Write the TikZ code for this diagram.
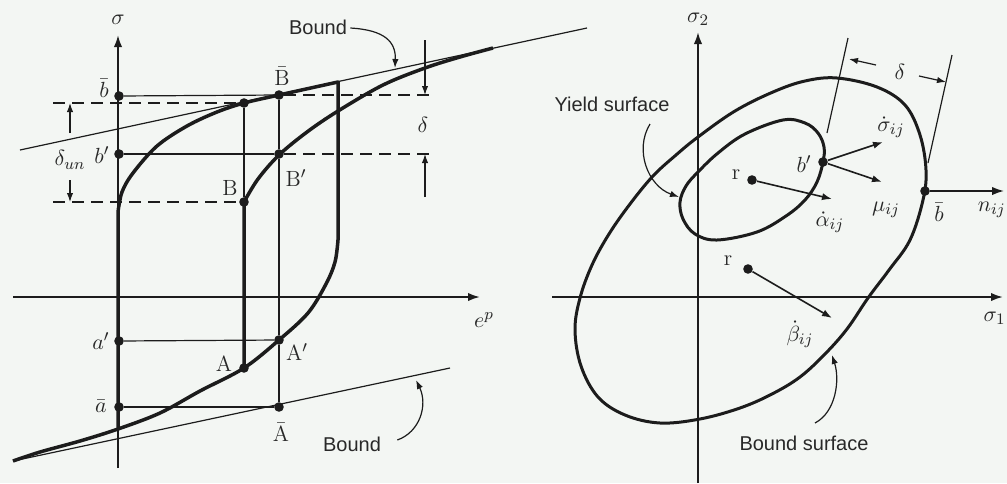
\documentclass[tikz,border=0pt]{standalone}
\usepackage{fontspec}
\setsansfont{Liberation Sans}
\usetikzlibrary{arrows.meta}
\definecolor{bg}{RGB}{243,246,243}
\definecolor{ink}{RGB}{28,28,28}
\definecolor{txt}{RGB}{40,40,40}
\begin{document}
\begin{tikzpicture}[x=0.5pt,y=-0.5pt,
  thickc/.style={draw=ink,line width=1.75pt,line join=round},
  ellc/.style={draw=ink,line width=1.5pt},
  axisl/.style={draw=ink,line width=1.0pt,-{Latex[length=6pt,width=4.2pt]}},
  thinl/.style={draw=ink,line width=0.6pt},
  dashl/.style={draw=ink,line width=0.7pt,dash pattern=on 6pt off 3.5pt},
  dimarrow/.style={draw=ink,line width=0.6pt,-{Latex[length=4.5pt,width=3.2pt]}},
  vecarrow/.style={draw=ink,line width=0.8pt,-{Latex[length=5pt,width=3.6pt]}},
  dot/.style={circle,fill=ink,inner sep=0pt,minimum size=4.8pt},
  mlbl/.style={text=txt,inner sep=0pt,font=\fontsize{11}{13}\selectfont},
  slbl/.style={text=txt,inner sep=0pt,font=\sffamily\fontsize{10}{12}\selectfont}]
\useasboundingbox (0,0) rectangle (1007,483);
\fill[bg] (0,0) rectangle (1007,483);

% ---------------- left panel ----------------
\coordinate (sigbot) at (118,468);
\coordinate (sigtop) at (118,35);
\coordinate (epl) at (13,297);
\coordinate (epr) at (480,297);
\draw[axisl] (sigbot) -- (sigtop);
\draw[axisl] (epl) -- (epr);
\node[mlbl] (sig) at (118,20) {$\sigma$};
\node[mlbl] (eps) at (484,320) {$e^{p}$};

% bound lines
\coordinate (ubL) at (20,150);
\coordinate (ubR) at (587,28);
\coordinate (lbL) at (13,461);
\coordinate (lbR) at (450,368);
\draw[thinl] (ubL) -- (ubR);
\draw[thinl] (lbL) -- (lbR);

% hysteresis loop
\draw[thickc] plot[smooth,tension=0.55] coordinates {(13,461) (40,452) (80,441) (118,429) (160,413) (200,391) (244,368) (279,340) (308,313) (326,284) (335,262) (338,240)}
  -- (338,82)
  -- plot[smooth,tension=0.55] coordinates {(338,82) (279,95) (244,103) (217,112) (187,126) (157,146) (133,173) (122,192) (118,212)}
  -- (118,430);
% reloading branch
\draw[thickc] (244,368) -- (244,202)
  -- plot[smooth,tension=0.55] coordinates {(244,202) (258,179) (279,155) (307,132) (338,111) (383,85) (425,68) (460,57) (493,48)};

% dots
\node[dot] (lb)   at (119,96)  {};
\node[dot] (Bbar) at (279,95)  {};
\node[dot] (Y)    at (244,103) {};
\node[dot] (lbp)  at (119,154) {};
\node[dot] (Bp)   at (279,154) {};
\node[dot] (B)    at (244,202) {};
\node[dot] (lap)  at (119,341) {};
\node[dot] (A)    at (244,368) {};
\node[dot] (Ap)   at (279,340) {};
\node[dot] (labar) at (119,407) {};
\node[dot] (Abar) at (279,407) {};

% thin projection lines
\draw[thinl] (lb) -- (Bbar);
\draw[thinl] (lbp) -- (Bp);
\draw[thinl] (lap) -- (Ap);
\draw[thinl] (labar) -- (Abar);
\draw[thinl] (Y) -- (B);
\draw[thinl] (Bbar) -- (Bp);
\draw[thinl] (Bp) -- (Ap);
\draw[thinl] (Ap) -- (Abar);

% dashed lines
\coordinate (dYl) at (53,103);
\coordinate (dBl) at (53,202);
\coordinate (dBbr) at (433,95);
\coordinate (dBpr) at (433,154);
\draw[dashl] (dYl) -- (Y);
\draw[dashl] (dBl) -- (B);
\draw[dashl] (Bbar) -- (dBbr);
\draw[dashl] (Bp) -- (dBpr);

% delta dimension (right)
\coordinate (d1s) at (425,40);
\coordinate (d1e) at (425,95);
\coordinate (d2s) at (425,197);
\coordinate (d2e) at (425,154);
\draw[dimarrow] (d1s) -- (d1e);
\draw[dimarrow] (d2s) -- (d2e);
\node[mlbl] (delta) at (423,125) {$\delta$};

% delta_un dimension (left)
\coordinate (u1s) at (70,133);
\coordinate (u1e) at (70,103);
\coordinate (u2s) at (70,180);
\coordinate (u2e) at (70,202);
\draw[dimarrow] (u1s) -- (u1e);
\draw[dimarrow] (u2s) -- (u2e);
\node[mlbl] (deltaun) at (70,160) {$\delta_{un}$};

% labels
\node[mlbl] (tlb)   at (104,88)  {$\bar{b}$};
\node[mlbl] (tBbar) at (282,76)  {$\bar{\mathrm{B}}$};
\node[mlbl] (tlbp)  at (102,155) {$b'$};
\node[mlbl] (tB)    at (230,188) {B};
\node[mlbl] (tBp)   at (296,178) {B$'$};
\node[mlbl] (tlap)  at (101,341) {$a'$};
\node[mlbl] (tA)    at (224,364) {A};
\node[mlbl] (tAp)   at (297,352) {A$'$};
\node[mlbl] (tlabar) at (101,406) {$\bar{a}$};
\node[mlbl] (tAbar) at (281,432) {$\bar{\mathrm{A}}$};

% Bound labels with curved arrows
\node[slbl] (bnd1) at (318,27) {Bound};
\coordinate (bnd1t) at (395,68);
\draw[dimarrow] (bnd1.east) ++(3,1) .. controls (385,30) and (396,42) .. (bnd1t);
\node[slbl] (bnd2) at (352,444) {Bound};
\coordinate (bnd2t) at (416,380);
\draw[dimarrow] (bnd2.east) ++(16,-4) .. controls (420,432) and (428,405) .. (bnd2t);

% ---------------- right panel ----------------
\coordinate (s2bot) at (698,483);
\coordinate (s2top) at (698,32);
\coordinate (s1l) at (552,297);
\coordinate (s1r) at (1003,297);
\draw[axisl] (s2bot) -- (s2top);
\draw[axisl] (s1l) -- (s1r);
\node[mlbl] (sig2) at (698,19) {$\sigma_2$};
\node[mlbl,anchor=east] (sig1) at (1006,318) {$\sigma_1$};

% bound surface
\draw[ellc] plot[smooth cycle,tension=0.6] coordinates {(837,78) (877,87) (905,105) (920,135) (926,170) (923,200) (910,240) (889,270) (868,298) (847,329) (825,354) (800,377) (772,394) (740,408) (700,419) (660,423) (625,415) (598,397) (581,366) (575,330) (580,298) (592,265) (609,234) (630,204) (653,176) (676,155) (698,137) (735,111) (773,92) (805,81)};
% yield surface
\draw[ellc] plot[smooth cycle,tension=0.6] coordinates {(783,120) (805,123) (818,133) (824,147) (823,162) (817,182) (805,200) (786,216) (757,232) (717,240) (695,234) (683,219) (680,202) (686,186) (698,172) (718,153) (745,134)};

% dots
\node[dot] (r1)  at (752,180) {};
\node[dot] (bp2) at (823,162) {};
\node[dot] (r2)  at (748,269) {};
\node[dot] (bb2) at (925,191) {};

% vectors
\coordinate (aend) at (832,199);
\coordinate (send) at (883,142);
\coordinate (mend) at (882,182);
\coordinate (bend) at (832,318);
\coordinate (nend) at (1004,191);
\draw[vecarrow] (r1) -- (aend);
\draw[vecarrow] (bp2) -- (send);
\draw[vecarrow] (bp2) -- (mend);
\draw[vecarrow] (r2) -- (bend);
\draw[axisl,line width=0.8pt] (bb2) -- (nend);

% delta normal lines
\coordinate (nl1a) at (848,38);
\coordinate (nl1b) at (827,133);
\coordinate (nl2a) at (952,55);
\coordinate (nl2b) at (928,163);
\draw[thinl] (nl1a) -- (nl1b);
\draw[thinl] (nl2a) -- (nl2b);
\node[mlbl] (delta2) at (900,72) {$\delta$};
\coordinate (da1) at (876,65);
\coordinate (da1t) at (849,59);
\coordinate (da2) at (919,76);
\coordinate (da2t) at (946,82);
\draw[dimarrow] (da1) -- (da1t);
\draw[dimarrow] (da2) -- (da2t);

% labels
\node[mlbl] (tr1)  at (736,175) {r};
\node[mlbl] (tbp2) at (804,164) {$b'$};
\node[mlbl] (talpha) at (830,222) {$\dot{\alpha}_{ij}$};
\node[mlbl] (tsig) at (891,127) {$\dot{\sigma}_{ij}$};
\node[mlbl] (tmu)  at (886,210) {$\mu_{ij}$};
\node[mlbl] (tbb2) at (939,212) {$\bar{b}$};
\node[mlbl,anchor=east] (tn) at (1006,210) {$n_{ij}$};
\node[mlbl] (tr2)  at (728,261) {r};
\node[mlbl] (tbeta) at (800,334) {$\dot{\beta}_{ij}$};

% surface labels with curved arrows
\node[slbl] (ys) at (612,104) {Yield surface};
\coordinate (yst) at (679,197);
\draw[dimarrow] (650,124) .. controls (634,150) and (648,186) .. (yst);
\node[slbl] (bs) at (804,443) {Bound surface};
\coordinate (bst) at (832,355);
\draw[dimarrow] (815,423) .. controls (836,412) and (840,380) .. (bst);
\end{tikzpicture}
\end{document}
